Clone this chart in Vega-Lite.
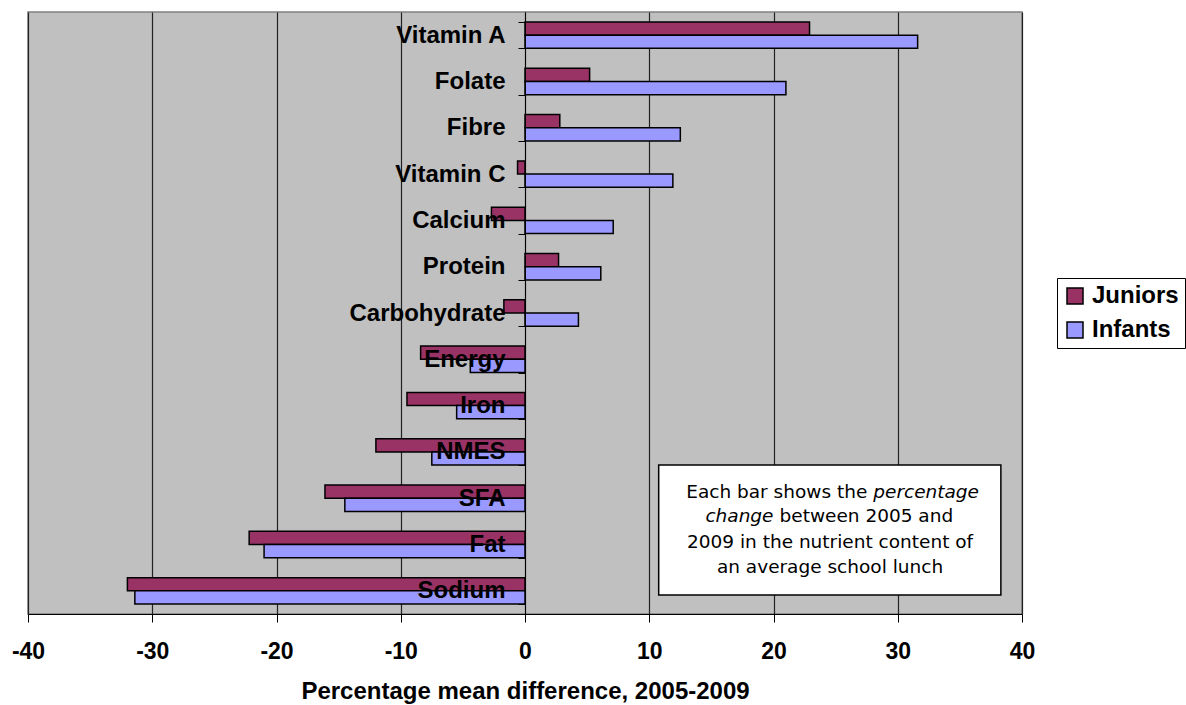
{
  "$schema": "https://vega.github.io/schema/vega-lite/v6.json",
  "width": 994,
  "height": 602,
  "autosize": {"type": "none"},
  "padding": {"left": 28, "top": 12, "right": 164, "bottom": 91},
  "background": "white",
  "config": {
    "view": {"fill": "#C0C0C0", "stroke": "#808080", "strokeWidth": 1.5},
    "font": "Liberation Sans"
  },
  "resolve": {"scale": {"y": "independent"}},
  "layer": [
    {
      "data": {
        "values": [
          {"nutrient": "Vitamin A", "group": "Juniors", "value": 22.9},
          {"nutrient": "Vitamin A", "group": "Infants", "value": 31.6},
          {"nutrient": "Folate", "group": "Juniors", "value": 5.2},
          {"nutrient": "Folate", "group": "Infants", "value": 21.0},
          {"nutrient": "Fibre", "group": "Juniors", "value": 2.8},
          {"nutrient": "Fibre", "group": "Infants", "value": 12.5},
          {"nutrient": "Vitamin C", "group": "Juniors", "value": -0.6},
          {"nutrient": "Vitamin C", "group": "Infants", "value": 11.9},
          {"nutrient": "Calcium", "group": "Juniors", "value": -2.7},
          {"nutrient": "Calcium", "group": "Infants", "value": 7.1},
          {"nutrient": "Protein", "group": "Juniors", "value": 2.7},
          {"nutrient": "Protein", "group": "Infants", "value": 6.1},
          {"nutrient": "Carbohydrate", "group": "Juniors", "value": -1.7},
          {"nutrient": "Carbohydrate", "group": "Infants", "value": 4.3},
          {"nutrient": "Energy", "group": "Juniors", "value": -8.4},
          {"nutrient": "Energy", "group": "Infants", "value": -4.4},
          {"nutrient": "Iron", "group": "Juniors", "value": -9.5},
          {"nutrient": "Iron", "group": "Infants", "value": -5.5},
          {"nutrient": "NMES", "group": "Juniors", "value": -12.0},
          {"nutrient": "NMES", "group": "Infants", "value": -7.5},
          {"nutrient": "SFA", "group": "Juniors", "value": -16.1},
          {"nutrient": "SFA", "group": "Infants", "value": -14.5},
          {"nutrient": "Fat", "group": "Juniors", "value": -22.2},
          {"nutrient": "Fat", "group": "Infants", "value": -21.0},
          {"nutrient": "Sodium", "group": "Juniors", "value": -32.0},
          {"nutrient": "Sodium", "group": "Infants", "value": -31.4}
        ]
      },
      "mark": {"type": "bar", "stroke": "black", "strokeWidth": 1.5},
      "encoding": {
        "y": {
          "field": "nutrient",
          "type": "nominal",
          "sort": ["Vitamin A", "Folate", "Fibre", "Vitamin C", "Calcium", "Protein", "Carbohydrate", "Energy", "Iron", "NMES", "SFA", "Fat", "Sodium"],
          "scale": {"paddingInner": 0.43, "paddingOuter": 0.215},
          "axis": {
            "orient": "left",
            "offset": -497,
            "title": null,
            "grid": false,
            "zindex": 1,
            "tickBand": "extent",
            "tickSize": 7,
            "tickColor": "black",
            "domainColor": "black",
            "labelFont": "Liberation Sans",
            "labelFontWeight": "bold",
            "labelFontSize": 24,
            "labelColor": "black",
            "labelPadding": 13
          }
        },
        "yOffset": {
          "field": "group",
          "sort": ["Juniors", "Infants"],
          "scale": {"paddingInner": 0, "paddingOuter": 0}
        },
        "x": {
          "field": "value",
          "type": "quantitative",
          "scale": {"domain": [-40, 40], "nice": false},
          "axis": {
            "values": [-40, -30, -20, -10, 0, 10, 20, 30, 40],
            "labelExpr": "'' + datum.value",
            "labelFlush": false,
            "grid": true,
            "gridColor": "#222222",
            "gridWidth": 1.2,
            "domainColor": "black",
            "tickColor": "black",
            "tickSize": 8,
            "labelFont": "Liberation Sans",
            "labelFontWeight": "bold",
            "labelFontSize": 23,
            "labelColor": "black",
            "labelPadding": 18,
            "title": "Percentage mean difference, 2005-2009",
            "titleFont": "Liberation Sans",
            "titleFontWeight": "bold",
            "titleFontSize": 24,
            "titleColor": "black",
            "titlePadding": 16
          }
        },
        "color": {
          "field": "group",
          "type": "nominal",
          "scale": {"domain": ["Juniors", "Infants"], "range": ["#993366", "#9999FF"]},
          "legend": {
            "orient": "none",
            "legendX": 1029,
            "legendY": 266,
            "title": null,
            "fillColor": "white",
            "strokeColor": "black",
            "padding": 6,
            "rowPadding": 10,
            "symbolType": "square",
            "symbolSize": 256,
            "symbolStrokeColor": "black",
            "symbolStrokeWidth": 1.5,
            "symbolOpacity": 1,
            "labelFont": "Liberation Sans",
            "labelFontWeight": "bold",
            "labelFontSize": 24,
            "labelColor": "black",
            "labelOffset": 5
          }
        }
      }
    },
    {
      "data": {"values": [{"x0": 10.76, "x1": 38.3, "y0": 9.78, "y1": 12.59}]},
      "mark": {"type": "rect", "fill": "white", "stroke": "black", "strokeWidth": 1.5},
      "encoding": {
        "x": {"field": "x0", "type": "quantitative"},
        "x2": {"field": "x1"},
        "y": {"field": "y0", "type": "quantitative", "scale": {"domain": [0, 13], "reverse": true, "nice": false}, "axis": null},
        "y2": {"field": "y1"}
      }
    },
    {
      "data": {"values": [{"t": "Each bar shows the", "xp": 28.03, "yp": 10.36}]},
      "mark": {"type": "text", "align": "right", "baseline": "middle", "dx": -6, "fontSize": 18.5, "font": "DejaVu Sans", "color": "black"},
      "encoding": {
        "x": {"field": "xp", "type": "quantitative"},
        "y": {"field": "yp", "type": "quantitative", "scale": {"domain": [0, 13], "reverse": true, "nice": false}, "axis": null},
        "text": {"field": "t"}
      }
    },
    {
      "data": {"values": [{"t": "percentage", "xp": 28.03, "yp": 10.36}]},
      "mark": {"type": "text", "align": "left", "baseline": "middle", "fontSize": 18.5, "fontStyle": "italic", "font": "DejaVu Sans", "color": "black"},
      "encoding": {
        "x": {"field": "xp", "type": "quantitative"},
        "y": {"field": "yp", "type": "quantitative", "scale": {"domain": [0, 13], "reverse": true, "nice": false}, "axis": null},
        "text": {"field": "t"}
      }
    },
    {
      "data": {"values": [{"t": "change", "xp": 20.0, "yp": 10.89}]},
      "mark": {"type": "text", "align": "right", "baseline": "middle", "fontSize": 18.5, "fontStyle": "italic", "font": "DejaVu Sans", "color": "black"},
      "encoding": {
        "x": {"field": "xp", "type": "quantitative"},
        "y": {"field": "yp", "type": "quantitative", "scale": {"domain": [0, 13], "reverse": true, "nice": false}, "axis": null},
        "text": {"field": "t"}
      }
    },
    {
      "data": {"values": [{"t": "between 2005 and", "xp": 20.0, "yp": 10.89}]},
      "mark": {"type": "text", "align": "left", "baseline": "middle", "dx": 6, "fontSize": 18.5, "font": "DejaVu Sans", "color": "black"},
      "encoding": {
        "x": {"field": "xp", "type": "quantitative"},
        "y": {"field": "yp", "type": "quantitative", "scale": {"domain": [0, 13], "reverse": true, "nice": false}, "axis": null},
        "text": {"field": "t"}
      }
    },
    {
      "data": {"values": [
        {"t": "2009 in the nutrient content of", "xp": 24.55, "yp": 11.44},
        {"t": "an average school lunch", "xp": 24.55, "yp": 11.99}
      ]},
      "mark": {"type": "text", "align": "center", "baseline": "middle", "fontSize": 18.5, "font": "DejaVu Sans", "color": "black"},
      "encoding": {
        "x": {"field": "xp", "type": "quantitative"},
        "y": {"field": "yp", "type": "quantitative", "scale": {"domain": [0, 13], "reverse": true, "nice": false}, "axis": null},
        "text": {"field": "t"}
      }
    }
  ]
}
